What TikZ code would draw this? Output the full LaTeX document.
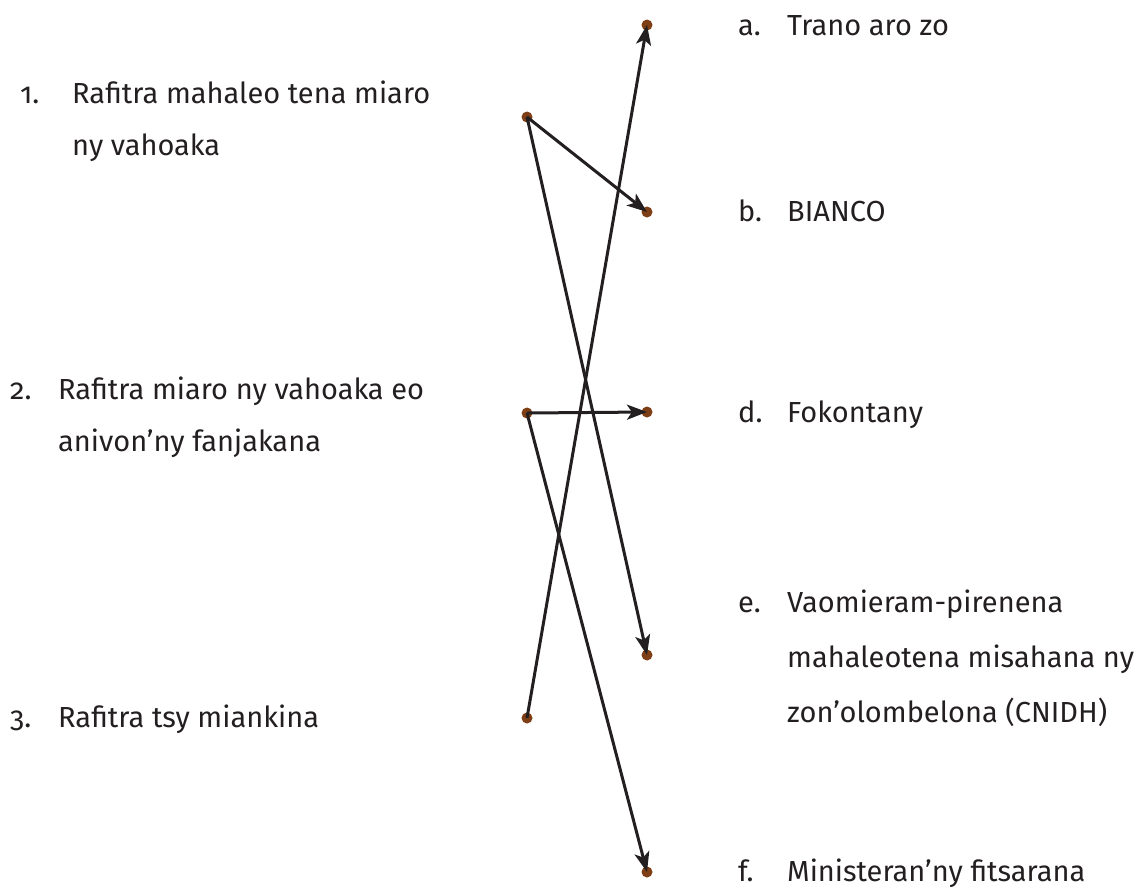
\documentclass[tikz,border=0pt]{standalone}
\usepackage{fontspec}
\setmainfont{Fira Sans}[Numbers=OldStyle]
\usetikzlibrary{arrows.meta}
\definecolor{ink}{HTML}{231F20}
\definecolor{dotbrown}{HTML}{7E3F16}
\tikzset{
  lbl/.style={anchor=base west, inner sep=0pt, text=ink, font=\fontsize{29}{34}\selectfont},
  pt/.style={circle, fill=dotbrown, inner sep=0pt, minimum size=11pt},
  link/.style={draw=ink, line width=3pt, -{Stealth[length=20pt,width=15pt,inset=5pt]}}
}
\begin{document}
\begin{tikzpicture}[x=1pt,y=-1pt]
\useasboundingbox (0,0) rectangle (1142,887);
% left labels
\node[lbl] (n1) at (20,103) {1.};
\node[lbl] (t1a) at (72,103) {Rafitra mahaleo tena miaro};
\node[lbl] (t1b) at (72,155) {ny vahoaka};
\node[lbl] (n2) at (10,399) {2.};
\node[lbl] (t2a) at (58,399) {Rafitra miaro ny vahoaka eo};
\node[lbl] (t2b) at (58,451) {anivon’ny fanjakana};
\node[lbl] (n3) at (10,727) {3.};
\node[lbl] (t3a) at (58,727) {Rafitra tsy miankina};
% right labels
\node[lbl] (la) at (738,35) {a.};
\node[lbl] (ta) at (787,35) {Trano aro zo};
\node[lbl] (lb) at (738,221) {b.};
\node[lbl] (tb) at (787,221) {BIANCO};
\node[lbl] (ld) at (738,422) {d.};
\node[lbl] (td) at (787,422) {Fokontany};
\node[lbl] (le) at (738,612) {e.};
\node[lbl] (tea) at (787,612) {Vaomieram-pirenena};
\node[lbl] (teb) at (787,667) {mahaleotena misahana ny};
\node[lbl] (tec) at (787,722) {zon’olombelona (CNIDH)};
\node[lbl] (lf) at (738,881) {f.};
\node[lbl] (tf) at (787,881) {Ministeran’ny fitsarana};
% dots
\node[pt] (L1) at (527,117) {};
\node[pt] (L2) at (527,413) {};
\node[pt] (L3) at (527,718) {};
\node[pt] (Ra) at (647,25) {};
\node[pt] (Rb) at (647,212) {};
\node[pt] (Rd) at (647,412) {};
\node[pt] (Re) at (647,655) {};
\node[pt] (Rf) at (647,872) {};
% connectors
\draw[link] (L1.center) -- (Rb.center);
\draw[link] (L1.center) -- (Re.center);
\draw[link] (L2.center) -- (Rd.center);
\draw[link] (L2.center) -- (Rf.center);
\draw[link] (L3.center) -- (Ra.center);
\end{tikzpicture}
\end{document}
